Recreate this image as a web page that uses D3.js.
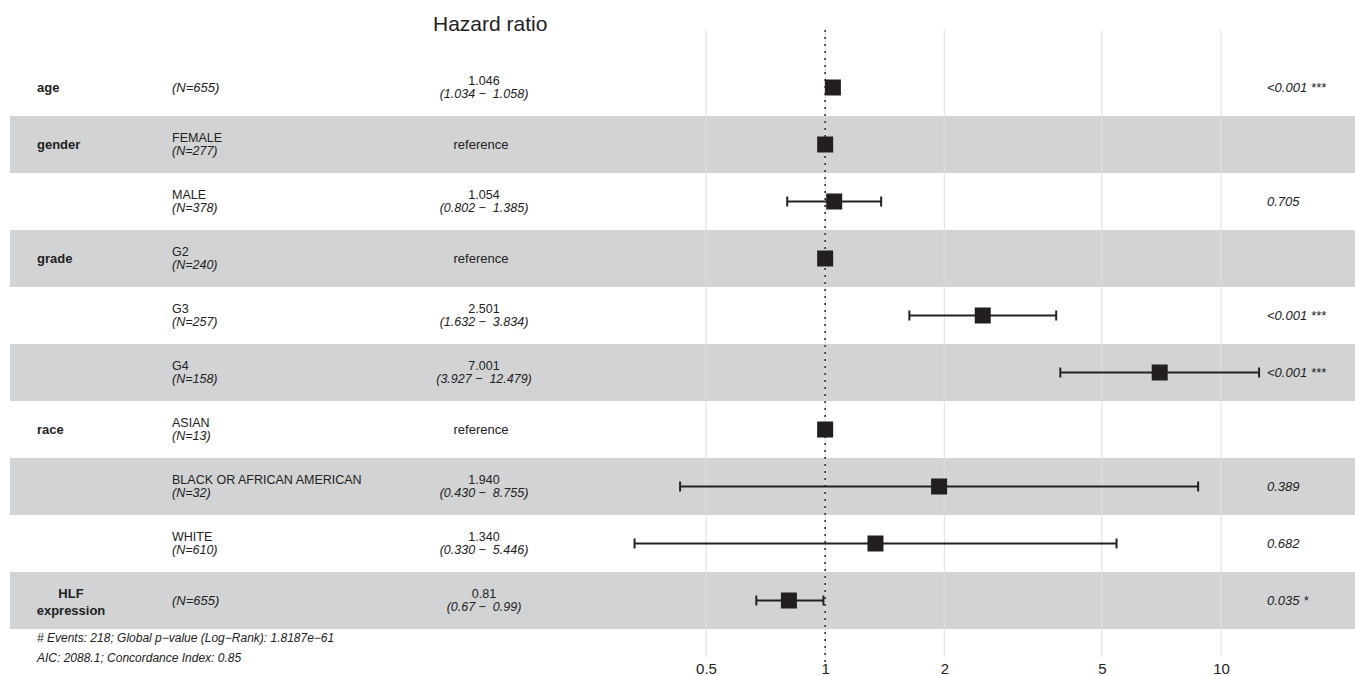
<!DOCTYPE html>
<html>
<head>
	<meta charset="UTF-8">
	<title>Hazard ratio</title>
	<script src="https://cdn.jsdelivr.net/npm/d3@7"></script>
	<style>
		body { margin: 0; background: #fff; }
		text { font-family: "Liberation Sans", Arial, sans-serif; fill: #222; white-space: pre; }
	</style>
</head>
<body>
<script type="text/javascript">
	// rows of the forest plot
	var variables = ["age", "gender", "", "grade", "", "", "race", "", "", "HLF\nexpression"];
	var levels    = ["", "FEMALE", "MALE", "G2", "G3", "G4", "ASIAN", "BLACK OR AFRICAN AMERICAN", "WHITE", ""];
	var counts    = [655, 277, 378, 240, 257, 158, 13, 32, 610, 655];
	var hr        = [1.046, 1, 1.054, 1, 2.501, 7.001, 1, 1.940, 1.340, 0.81];
	var lower     = [1.034, null, 0.802, null, 1.632, 3.927, null, 0.430, 0.330, 0.67];
	var upper     = [1.058, null, 1.385, null, 3.834, 12.479, null, 8.755, 5.446, 0.99];
	var hrLabels  = ["1.046", "reference", "1.054", "reference", "2.501", "7.001", "reference", "1.940", "1.340", "0.81"];
	var ciLabels  = ["(1.034 \u2212  1.058)", "", "(0.802 \u2212  1.385)", "", "(1.632 \u2212  3.834)",
	                 "(3.927 \u2212  12.479)", "", "(0.430 \u2212  8.755)", "(0.330 \u2212  5.446)", "(0.67 \u2212  0.99)"];
	var pLabels   = ["<0.001 ***", "", "0.705", "", "<0.001 ***", "<0.001 ***", "", "0.389", "0.682", "0.035 *"];
	var ticks     = [0.5, 1, 2, 5, 10];
	var footer    = ["# Events: 218; Global p\u2212value (Log\u2212Rank): 1.8187e\u221261",
	                 "AIC: 2088.1; Concordance Index: 0.85"];

	var W = 1355, H = 676;
	var svg = d3.select("body").append("svg")
		.attr("width", W)
		.attr("height", H);

	var x = d3.scaleLog().domain([0.5, 10]).range([706, 1221]);
	var y = d3.scaleBand().domain(d3.range(hr.length)).range([59, 629]);
	var cy = function(i) { return y(i) + y.bandwidth() / 2; };

	// shaded bands on every second row
	svg.selectAll("rect.band")
		.data(d3.range(hr.length).filter(function(i) { return i % 2 == 1; }))
		.enter().append("rect")
		.attr("class", "band")
		.attr("x", 10)
		.attr("width", W - 10)
		.attr("y", function(i) { return y(i); })
		.attr("height", y.bandwidth())
		.attr("fill", "#d2d3d5");

	// grid lines
	svg.selectAll("line.grid")
		.data(ticks)
		.enter().append("line")
		.attr("class", "grid")
		.attr("x1", function(d) { return x(d); })
		.attr("x2", function(d) { return x(d); })
		.attr("y1", 30)
		.attr("y2", 657)
		.attr("stroke", "#dedede")
		.attr("stroke-width", 1);

	// axis tick labels
	var axis = d3.axisBottom(x).tickValues(ticks).tickFormat(d3.format("")).tickSize(0).tickPadding(0);
	var ax = svg.append("g").attr("transform", "translate(0,663)").call(axis);
	ax.select(".domain").remove();
	ax.selectAll("text")
		.attr("dy", "0.71em")
		.style("font-size", "15px")
		.style("font-family", "'Liberation Sans', Arial, sans-serif")
		.attr("fill", "#4d4d4d");

	// reference line at 1
	svg.append("line")
		.attr("x1", x(1)).attr("x2", x(1))
		.attr("y1", 30).attr("y2", 662)
		.attr("stroke", "#333")
		.attr("stroke-width", 1.6)
		.attr("stroke-dasharray", "2,5");

	// title
	svg.append("text")
		.attr("x", 433).attr("y", 31)
		.style("font-size", "21px")
		.text("Hazard ratio");

	// variable names
	variables.forEach(function(v, i) {
		if (!v) return;
		var parts = v.split("\n");
		if (parts.length == 1) {
			svg.append("text").attr("x", 37).attr("y", cy(i) + 4.5)
				.style("font-size", "13px").style("font-weight", "bold").text(v);
		} else {
			svg.append("text").attr("x", 71).attr("y", cy(i) - 3)
				.attr("text-anchor", "middle")
				.style("font-size", "13px").style("font-weight", "bold").text(parts[0]);
			svg.append("text").attr("x", 71).attr("y", cy(i) + 14)
				.attr("text-anchor", "middle")
				.style("font-size", "13px").style("font-weight", "bold").text(parts[1]);
		}
	});

	// levels with N
	levels.forEach(function(l, i) {
		if (l) {
			svg.append("text").attr("x", 172).attr("y", cy(i) - 2.5)
				.style("font-size", "12.5px").text(l);
			svg.append("text").attr("x", 172).attr("y", cy(i) + 10.5)
				.style("font-size", "12.5px").style("font-style", "italic").text("(N=" + counts[i] + ")");
		} else {
			svg.append("text").attr("x", 172).attr("y", cy(i) + 4.5)
				.style("font-size", "13px").style("font-style", "italic").text("(N=" + counts[i] + ")");
		}
	});

	// estimates
	hrLabels.forEach(function(h, i) {
		if (h == "reference") {
			svg.append("text").attr("x", 481).attr("y", cy(i) + 4.5)
				.attr("text-anchor", "middle").style("font-size", "13px").text(h);
		} else {
			svg.append("text").attr("x", 484).attr("y", cy(i) - 2.5)
				.attr("text-anchor", "middle").style("font-size", "12.5px").text(h);
			svg.append("text").attr("x", 484).attr("y", cy(i) + 10.5)
				.attr("text-anchor", "middle").style("font-size", "12.5px").style("font-style", "italic")
				.text(ciLabels[i]);
		}
	});

	// p values
	pLabels.forEach(function(p, i) {
		if (!p) return;
		svg.append("text").attr("x", 1267).attr("y", cy(i) + 4.5)
			.style("font-size", "13px").style("font-style", "italic").text(p);
	});

	// error bars
	var bars = d3.range(hr.length).filter(function(i) { return lower[i] != null; });
	var eb = svg.selectAll("g.eb").data(bars).enter().append("g").attr("class", "eb");
	eb.append("line")
		.attr("x1", function(i) { return x(lower[i]); })
		.attr("x2", function(i) { return x(upper[i]); })
		.attr("y1", cy).attr("y2", cy)
		.attr("stroke", "#222").attr("stroke-width", 2);
	eb.append("line")
		.attr("x1", function(i) { return x(lower[i]); })
		.attr("x2", function(i) { return x(lower[i]); })
		.attr("y1", function(i) { return cy(i) - 5; })
		.attr("y2", function(i) { return cy(i) + 5; })
		.attr("stroke", "#222").attr("stroke-width", 2);
	eb.append("line")
		.attr("x1", function(i) { return x(upper[i]); })
		.attr("x2", function(i) { return x(upper[i]); })
		.attr("y1", function(i) { return cy(i) - 5; })
		.attr("y2", function(i) { return cy(i) + 5; })
		.attr("stroke", "#222").attr("stroke-width", 2);

	// points
	svg.selectAll("rect.pt")
		.data(d3.range(hr.length))
		.enter().append("rect")
		.attr("class", "pt")
		.attr("x", function(i) { return x(hr[i]) - 8; })
		.attr("y", function(i) { return cy(i) - 8; })
		.attr("width", 16).attr("height", 16)
		.attr("fill", "#231f20");

	// footer
	footer.forEach(function(f, i) {
		svg.append("text").attr("x", 37).attr("y", 642 + i * 20)
			.style("font-size", "12px").style("font-style", "italic").text(f);
	});
</script>
</body>
</html>
